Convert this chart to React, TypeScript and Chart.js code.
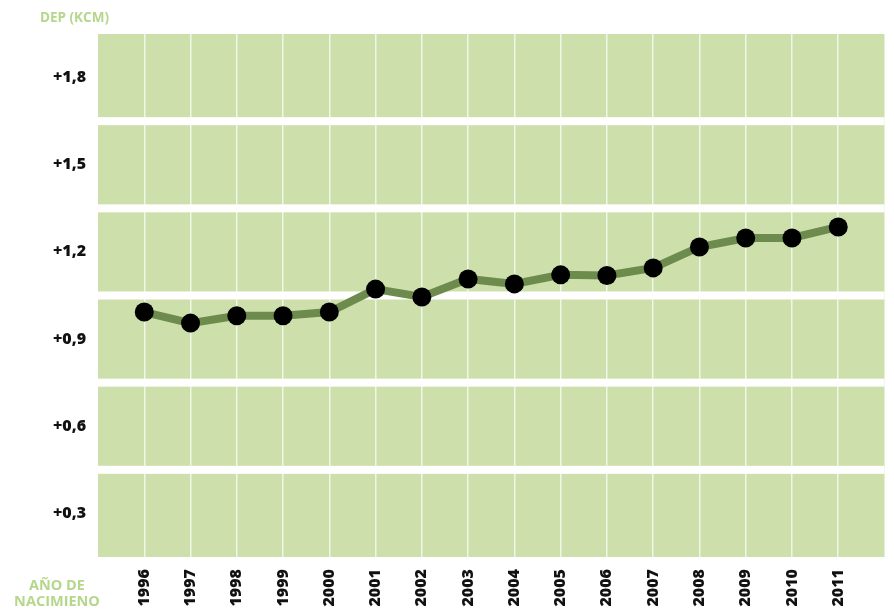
import React, { useEffect, useRef } from "react";
import { Chart, registerables } from "chart.js";

Chart.register(...registerables);

const years = [1996, 1997, 1998, 1999, 2000, 2001, 2002, 2003, 2004, 2005, 2006, 2007, 2008, 2009, 2010, 2011];
const depValues = [0.993, 0.955, 0.98, 0.98, 0.993, 1.072, 1.045, 1.107, 1.09, 1.121, 1.119, 1.145, 1.217, 1.248, 1.248, 1.286];
const yTickValues = [0.3, 0.6, 0.9, 1.2, 1.5, 1.8];
const bandEdges = [0.15, 0.45, 0.75, 1.05, 1.35, 1.65, 1.95];
const yTitle = "DEP (KCM)";
const xTitleLines = ["AÑO DE", "NACIMIENO"];

const BAND = "#cde0ab";
const LINE = "#6e8b4e";
const GREEN_TEXT = "#b5d78c";
const FONT = "'Open Sans', sans-serif";

const bandsPlugin = {
  id: "bands",
  beforeDraw(chart: any) {
    const { ctx, chartArea } = chart;
    ctx.save();
    ctx.fillStyle = BAND;
    ctx.fillRect(chartArea.left, chartArea.top, chartArea.right - chartArea.left, chartArea.bottom - chartArea.top);
    ctx.restore();
  },
  beforeDatasetsDraw(chart: any) {
    const { ctx, chartArea, scales } = chart;
    const y = scales.y;
    ctx.save();
    ctx.fillStyle = "#ffffff";
    for (let i = 1; i < bandEdges.length - 1; i++) {
      const py = y.getPixelForValue(bandEdges[i]);
      ctx.fillRect(chartArea.left, py - 4, chartArea.right - chartArea.left, 8);
    }
    ctx.restore();
  },
  afterDraw(chart: any) {
    const { ctx } = chart;
    ctx.save();
    ctx.fillStyle = GREEN_TEXT;
    ctx.font = `bold 13.5px ${FONT}`;
    ctx.textBaseline = "alphabetic";
    ctx.textAlign = "left";
    ctx.fillText(yTitle, 40, 22);
    ctx.textAlign = "center";
    ctx.font = `bold 14.5px ${FONT}`;
    ctx.fillText(xTitleLines[0], 57, 590);
    ctx.fillText(xTitleLines[1], 57, 606);
    ctx.restore();
  },
};

export default function App() {
  const ref = useRef<HTMLCanvasElement | null>(null);
  useEffect(() => {
    if (!ref.current) return;
    const chart = new Chart(ref.current, {
      type: "line",
      data: {
        datasets: [
          {
            data: years.map((yr, i) => ({ x: yr, y: depValues[i] })),
            borderColor: LINE,
            borderWidth: 8,
            pointBackgroundColor: "#000",
            pointBorderColor: "#000",
            pointRadius: 9.5,
            pointBorderWidth: 0,
            tension: 0,
          },
        ],
      },
      options: {
        animation: false,
        responsive: false,
        maintainAspectRatio: false,
        layout: { padding: { top: 34, right: 9, left: 0, bottom: 0 } },
        plugins: { legend: { display: false }, tooltip: { enabled: false } },
        scales: {
          x: {
            type: "linear",
            min: 1995,
            max: 2012,
            afterFit(scale: any) {
              scale.height = 53;
              scale.paddingLeft = 0;
              scale.paddingRight = 0;
            },
            ticks: {
              stepSize: 1,
              autoSkip: false,
              minRotation: 90,
              maxRotation: 90,
              padding: 12,
              color: "#111",
              font: { family: FONT, weight: "800", size: 16 },
              callback: (v: any) => (v >= years[0] && v <= years[years.length - 1] ? String(v) : ""),
            },
            grid: {
              drawTicks: false,
              lineWidth: 1.5,
              color: (c: any) =>
                c.tick && c.tick.value >= years[0] && c.tick.value <= years[years.length - 1]
                  ? "rgba(255,255,255,0.7)"
                  : "rgba(0,0,0,0)",
            },
            border: { display: false },
          },
          y: {
            type: "linear",
            min: bandEdges[0],
            max: bandEdges[bandEdges.length - 1],
            afterBuildTicks(scale: any) {
              scale.ticks = yTickValues.map((v) => ({ value: v }));
            },
            afterFit(scale: any) {
              scale.width = 98;
            },
            ticks: {
              padding: 4,
              color: "#111",
              font: { family: FONT, weight: "800", size: 16 },
              callback: (v: any) => "+" + Number(v).toFixed(1).replace(".", ","),
            },
            grid: { display: false },
            border: { display: false },
          },
        },
      },
      plugins: [bandsPlugin],
    } as any);
    return () => chart.destroy();
  }, []);
  return (
    <div style={{ position: "absolute", left: 0, top: 0, width: 894, height: 610, background: "#fff" }}>
      <canvas ref={ref} width={894} height={610} style={{ display: "block" }} />
    </div>
  );
}
